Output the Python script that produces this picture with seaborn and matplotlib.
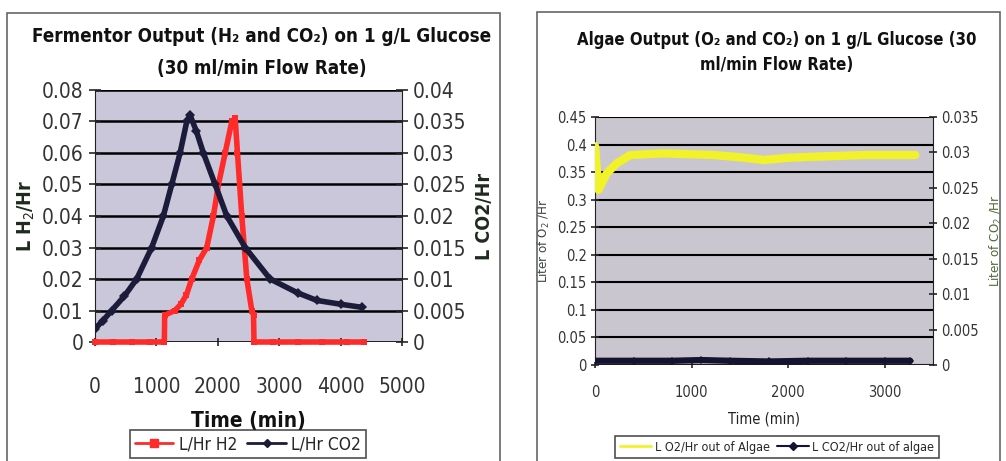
import numpy as np
import pandas as pd
import matplotlib
matplotlib.use('Agg')
import matplotlib.pyplot as plt
import seaborn as sns
from matplotlib.patches import Rectangle
from matplotlib.lines import Line2D

# ---- data ----
# Fermentor: H2 (left axis) and CO2 (right axis)
h2_time = [0, 300, 600, 900, 1130, 1135, 1300, 1400, 1490, 1576, 1700, 1821, 1929,
           2011, 2120, 2228, 2283, 2321, 2391, 2473, 2554, 2582, 2590, 2900, 3300,
           3700, 4100, 4380]
h2_vals = [0, 0, 0, 0, 0, 0.0085, 0.010, 0.012, 0.015, 0.020, 0.026, 0.030, 0.040,
           0.050, 0.060, 0.070, 0.071, 0.060, 0.040, 0.020, 0.010, 0.0085, 0, 0, 0,
           0, 0, 0]
co2_time = [0, 130, 272, 480, 679, 924, 1114, 1250, 1386, 1495, 1549, 1650, 1766,
            1957, 2147, 2446, 2853, 3300, 3614, 4000, 4348]
co2_vals = [0.0021, 0.0034, 0.005, 0.0073, 0.010, 0.015, 0.020, 0.025, 0.030, 0.035,
            0.036, 0.0335, 0.030, 0.025, 0.020, 0.015, 0.010, 0.0078, 0.0066, 0.006,
            0.0055]

# Algae: O2 (left axis) and CO2 (right axis)
o2_time = [0, 35, 122, 226, 365, 712, 1233, 1500, 1753, 2000, 2274, 2795, 3316]
o2_vals = [0.397, 0.318, 0.348, 0.366, 0.381, 0.384, 0.381, 0.377, 0.372, 0.376,
           0.378, 0.381, 0.381]
alg_co2_time = [0, 400, 800, 1100, 1400, 1800, 2200, 2600, 3000, 3264]
alg_co2_vals = [0.0006, 0.0006, 0.0006, 0.0007, 0.0006, 0.0005, 0.0006, 0.0006,
                0.0006, 0.0006]

red = '#ff2a2a'
navy = '#1c1c3a'
yellow = '#f2f22a'

sns.set_style('white')
plt.rcParams['font.family'] = ['DejaVu Sans']
plt.rcParams['font.stretch'] = 'condensed'

fig = plt.figure(figsize=(10.06, 4.61), dpi=100)

# panel frames
fig.patches.append(Rectangle((7/1006, -0.01), 493/1006, 1 - 13/461 + 0.01,
                             transform=fig.transFigure, fill=False, ec='#666666', lw=1.2))
fig.patches.append(Rectangle((537/1006, -0.01), 463/1006, 1 - 12/461 + 0.01,
                             transform=fig.transFigure, fill=False, ec='#666666', lw=1.2))

# ---------------- left panel ----------------
ax = fig.add_axes([0.0944, 0.2581, 0.3052, 0.5467])
ax.set_facecolor('#cbc7da')
ax2 = ax.twinx()

sns.lineplot(x=h2_time, y=h2_vals, ax=ax, color=red, lw=4, marker='s',
             markersize=5, markeredgewidth=0, legend=False, zorder=3, clip_on=False)
sns.lineplot(x=co2_time, y=co2_vals, ax=ax2, color=navy, lw=4, marker='D',
             markersize=5, markeredgewidth=0, legend=False)

ax.set_xlim(0, 5000)
ax.set_ylim(0, 0.08)
ax2.set_ylim(0, 0.04)
ax.set_xticks(range(0, 5001, 1000))
ax.set_yticks(np.arange(0, 0.081, 0.01))
ax.set_yticklabels(['0', '0.01', '0.02', '0.03', '0.04', '0.05', '0.06', '0.07', '0.08'])
ax2.set_yticks(np.arange(0, 0.041, 0.005))
ax2.set_yticklabels(['0', '0.005', '0.01', '0.015', '0.02', '0.025', '0.03', '0.035', '0.04'])
ax.grid(axis='y', color='black', lw=1.8)
ax.set_axisbelow(True)
for a in (ax, ax2):
    for s in a.spines.values():
        s.set_visible(False)
ax.spines['left'].set_visible(True)
ax2.spines['right'].set_visible(True)
ax.spines['left'].set_color('#222222')
ax2.spines['right'].set_color('#222222')
ax.tick_params(axis='y', direction='inout', length=8, width=1.2, labelsize=15,
               labelcolor='#333333', pad=4, left=True)
ax.tick_params(axis='x', direction='inout', length=6, width=1.2, labelsize=15,
               labelcolor='#333333', pad=22, bottom=True)
ax2.tick_params(axis='y', direction='inout', length=8, width=1.2, labelsize=15,
                labelcolor='#333333', pad=4, right=True)
ax.axhline(0, color='#222222', lw=1.2, zorder=2)
ax.set_ylabel('L H$_2$/Hr', fontsize=14, fontweight='bold', color='#1e2a1e', labelpad=4)
ax2.set_ylabel('L CO2/Hr', fontsize=14, fontweight='bold', color='#1e2a1e', labelpad=6)
ax.set_xlabel('Time (min)', fontsize=15, fontweight='bold', color='#111111', labelpad=10)
fig.text(262/1006, 1 - 36/461, 'Fermentor Output (H\u2082 and CO\u2082) on 1 g/L Glucose',
         ha='center', va='center', fontsize=13.5, fontweight='bold', color='#111111')
fig.text(262/1006, 1 - 68/461, '(30 ml/min Flow Rate)',
         ha='center', va='center', fontsize=13.5, fontweight='bold', color='#111111')
hands = [Line2D([], [], color=red, lw=2, marker='s', markersize=6),
         Line2D([], [], color=navy, lw=2, marker='D', markersize=4)]
leg = fig.legend(hands, ['L/Hr H2', 'L/Hr CO2'], loc='center',
                 bbox_to_anchor=(248/1006, 1 - 444/461),
                 ncol=2, fontsize=12.5, frameon=True, fancybox=False, edgecolor='#222222',
                 handlelength=2.2, columnspacing=0.6, handletextpad=0.3, borderpad=0.3)
leg.get_frame().set_linewidth(1.2)

# ---------------- right panel ----------------
bx = fig.add_axes([0.5915, 0.2082, 0.3360, 0.5380])
bx.set_facecolor('#c9c6d0')
bx2 = bx.twinx()

sns.lineplot(x=o2_time, y=o2_vals, ax=bx, color=yellow, lw=6, legend=False, zorder=3)
sns.lineplot(x=alg_co2_time, y=alg_co2_vals, ax=bx2, color='#141430', lw=4.5, marker='D',
             markersize=4, markeredgewidth=0, legend=False)

bx.set_xlim(0, 3500)
bx.set_ylim(0, 0.45)
bx2.set_ylim(0, 0.035)
bx.set_xticks([0, 1000, 2000, 3000])
bx.set_yticks(np.arange(0, 0.451, 0.05))
bx.set_yticklabels(['0', '0.05', '0.1', '0.15', '0.2', '0.25', '0.3', '0.35', '0.4', '0.45'])
bx2.set_yticks(np.arange(0, 0.0351, 0.005))
bx2.set_yticklabels(['0', '0.005', '0.01', '0.015', '0.02', '0.025', '0.03', '0.035'])
bx.grid(axis='y', color='black', lw=1.5)
bx.set_axisbelow(True)
for a in (bx, bx2):
    for s in a.spines.values():
        s.set_visible(False)
bx.spines['left'].set_visible(True)
bx2.spines['right'].set_visible(True)
bx.spines['left'].set_color('#222222')
bx2.spines['right'].set_color('#222222')
bx.axhline(0, color='#222222', lw=1.2, zorder=2)
bx.tick_params(axis='y', direction='inout', length=6, width=1.2, labelsize=10.5,
               labelcolor='#333333', pad=3, left=True)
bx.tick_params(axis='x', direction='inout', length=5, width=1.2, labelsize=10.5,
               labelcolor='#333333', pad=12, bottom=True)
bx2.tick_params(axis='y', direction='inout', length=6, width=1.2, labelsize=10.5,
                labelcolor='#333333', pad=3, right=True)
bx.set_ylabel('Liter of O$_2$ /Hr', fontsize=9.5, color='#3a4a3a', labelpad=4)
bx2.set_ylabel('Liter of CO$_2$ /Hr', fontsize=9.5, color='#4f6a3a', labelpad=6)
bx.set_xlabel('Time (min)', fontsize=10.5, color='#222222', labelpad=8)
fig.text(777/1006, 1 - 40/461, 'Algae Output (O\u2082 and CO\u2082) on 1 g/L Glucose (30',
         ha='center', va='center', fontsize=12, fontweight='bold', color='#111111')
fig.text(777/1006, 1 - 65/461, 'ml/min Flow Rate)',
         ha='center', va='center', fontsize=12, fontweight='bold', color='#111111')
hands2 = [Line2D([], [], color=yellow, lw=2),
          Line2D([], [], color='#141430', lw=1.5, marker='D', markersize=4)]
leg2 = fig.legend(hands2, ['L O2/Hr out of Algae', 'L CO2/Hr out of algae'], loc='center',
                  bbox_to_anchor=(777/1006, 1 - 447/461),
                  ncol=2, fontsize=9, frameon=True, fancybox=False, edgecolor='#222222',
                  handlelength=2.5, columnspacing=0.6, handletextpad=0.3, borderpad=0.35)
leg2.get_frame().set_linewidth(1.2)

fig.savefig('out.png', dpi=100)
